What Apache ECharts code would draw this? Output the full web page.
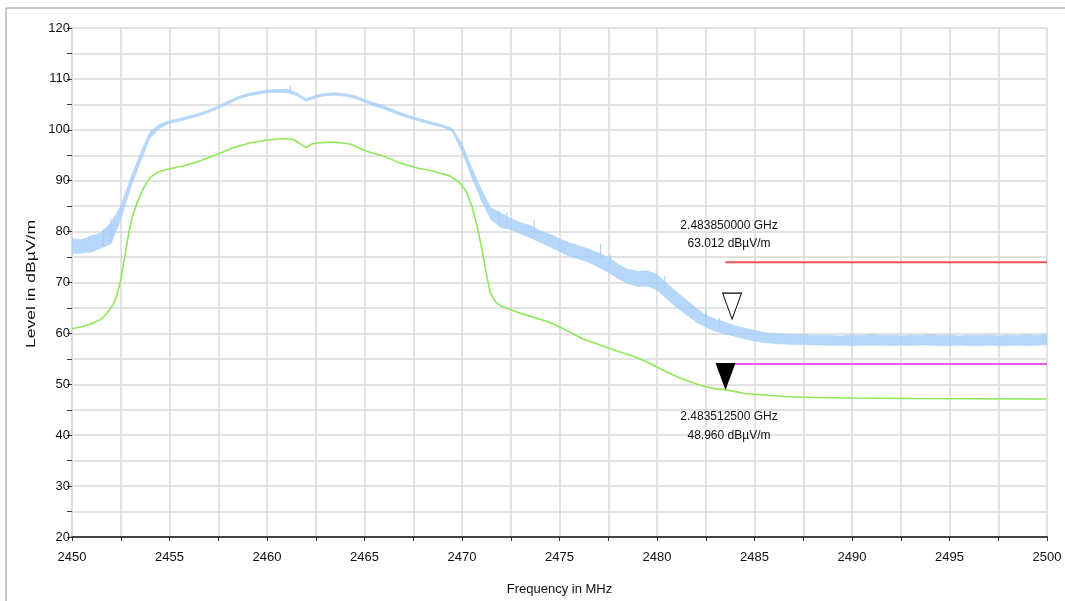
<!DOCTYPE html>
<html><head><meta charset="utf-8">
<script src="https://cdn.jsdelivr.net/npm/echarts@6/dist/echarts.min.js"></script>
<style>html,body{margin:0;padding:0;background:#fff}#c{width:1065px;height:601px}</style>
</head><body><div id="c"></div>
<script>
// ---------- data ----------
const xTickLabels = ['2450','2455','2460','2465','2470','2475','2480','2485','2490','2495','2500'];
const yTickLabels = ['20','30','40','50','60','70','80','90','100','110','120'];

// Peak trace (blue): noisy band, lower / upper edge per frequency
const blueFreq = [2450,2450.5,2451,2451.5,2452,2452.5,2453,2453.5,2454,2454.5,2455,2455.5,2456,2456.5,2457,2457.5,2458,2458.5,2459,2459.5,
  2460,2460.5,2461,2461.5,2462,2462.5,2463,2463.5,2464,2464.5,2465,2465.5,2466,2466.5,2467,2467.5,2468,2468.5,2469,2469.5,
  2470,2470.5,2471,2471.5,2472,2472.5,2473,2473.5,2474,2474.5,2475,2475.5,2476,2476.5,2477,2477.5,2478,2478.5,2479,2479.5,
  2480,2480.5,2481,2481.5,2482,2482.5,2483,2483.5,2484,2484.5,2485,2485.5,2486,2486.5,2487,2487.5,2488,2488.5,2489,2489.5,
  2490,2490.5,2491,2491.5,2492,2492.5,2493,2493.5,2494,2494.5,2495,2495.5,2496,2496.5,2497,2497.5,2498,2498.5,2499,2499.5,2500];
const blueLow = [75.6,75.8,76.0,76.8,77.6,82.4,88.5,93.6,98.4,100.3,101.3,101.7,102.2,102.7,103.4,104.2,105.1,106.0,106.6,107.0,
  107.3,107.4,107.3,106.8,105.6,106.3,106.7,106.8,106.6,106.2,105.4,104.7,104.1,103.3,102.6,102.0,101.5,101.0,100.5,99.6,
  95.7,90.7,86.0,82.3,80.8,80.4,79.6,78.8,77.9,77.0,76.1,75.2,74.6,74.0,73.0,72.0,70.8,69.8,69.2,69.3,
  68.5,66.8,65.1,63.7,62.3,61.2,60.4,59.9,59.4,58.9,58.5,58.2,58.0,57.9,57.8,57.8,57.7,57.7,57.6,57.7,
  57.6,57.7,57.6,57.7,57.6,57.7,57.6,57.7,57.7,57.6,57.6,57.7,57.6,57.6,57.7,57.6,57.6,57.7,57.6,57.7,57.7];
const blueHigh = [78.6,78.4,79.2,79.8,81.8,85.0,90.5,95.3,99.6,101.1,101.8,102.2,102.7,103.2,103.9,104.7,105.6,106.5,107.1,107.5,
  107.8,107.9,108.0,107.3,106.1,106.8,107.2,107.3,107.1,106.7,106.0,105.3,104.7,103.9,103.2,102.5,102.0,101.5,101.0,100.3,
  97.3,92.5,88.2,84.6,83.6,82.6,81.8,81.2,80.2,79.5,78.6,77.8,77.2,76.6,75.8,75.0,73.6,72.6,72.2,72.3,
  71.6,69.8,68.2,66.6,65.0,63.6,62.8,62.2,61.5,61.0,60.6,60.2,60.0,59.9,59.7,59.8,59.6,59.7,59.6,59.5,
  59.7,59.6,59.8,59.6,59.7,59.5,59.7,59.6,59.8,59.6,59.7,59.5,59.7,59.6,59.7,59.5,59.7,59.6,59.8,59.6,59.8];
// isolated spikes of the peak trace: frequency, from, to
const spikeFreq = [2451.6,2452.0,2461.2,2471.9,2472.3,2473.7,2477.1,2477.6,2480.4,2482.5,2483.2];
const spikeFrom = [77.0,78.0,107.5,82.0,81.5,79.5,74.5,73.5,68.5,62.5,61.0];
const spikeTo   = [80.5,82.5,108.6,84.3,83.8,82.2,77.6,75.5,71.3,64.8,63.0];

// Average trace (green)
const greenFreq = [2450,2450.5,2451,2451.5,2451.8,2452.1,2452.3,2452.5,2452.7,2452.9,2453.1,2453.4,2453.7,2454.0,2454.4,2454.85,
  2455.7,2456.5,2457.4,2458.3,2459.1,2460.0,2460.8,2461.35,2461.7,2462.0,2462.3,2462.55,2463.4,2464.26,2465.1,2466.0,2466.8,
  2467.7,2468.5,2469.4,2469.9,2470.2,2470.5,2470.75,2471.0,2471.27,2471.45,2471.7,2471.95,2472.8,2473.65,2474.5,2475.36,2476.2,
  2477.08,2477.9,2478.8,2479.64,2480.5,2481.2,2482.2,2483.0,2483.5,2484.5,2485.5,2486.5,2488.0,2490.0,2493.0,2496.0,2500.0];
const greenLevel = [60.9,61.3,61.9,62.8,64.0,65.6,67.5,70.5,75.0,79.5,83.0,86.3,88.8,90.6,91.7,92.2,
  92.9,93.8,95.1,96.5,97.4,98.0,98.3,98.1,97.3,96.5,97.2,97.4,97.6,97.2,95.8,94.8,93.5,
  92.5,91.9,90.9,89.5,88.0,85.0,81.5,77.0,71.3,68.0,66.3,65.5,64.2,63.2,62.2,60.6,58.9,
  57.7,56.6,55.5,54.1,52.4,51.2,49.8,49.1,48.95,48.2,47.9,47.6,47.4,47.3,47.2,47.15,47.1];

// Limit lines
const limitFreq = [2483.5, 2500];
const peakLimit = [74, 74];
const avgLimit = [54, 54];

// Markers
const markerPeak = [2483.85, 63.012];
const markerAvg = [2483.5125, 48.960];
const markerPeakText = ['2.483850000 GHz', '63.012 dBµV/m'];
const markerAvgText = ['2.483512500 GHz', '48.960 dBµV/m'];

// ---------- chart ----------
const FONT = '"Liberation Sans", Arial, sans-serif';
const GRID = '#d9d9d9';
const BLUE = '#a4cdf8';
const chart = echarts.init(document.getElementById('c'), null, {renderer: 'canvas'});

const option = {
  animation: false,
  backgroundColor: '#fff',
  textStyle: {fontFamily: FONT},
  grid: {left: 72, right: 18, top: 28, bottom: 62, containLabel: false},
  xAxis: {
    type: 'value', min: 2450, max: 2500, interval: 2.5,
    name: 'Frequency in MHz', nameLocation: 'middle', nameGap: 46,
    nameTextStyle: {fontFamily: FONT, fontSize: 13, color: '#111'},
    axisLine: {show: true, lineStyle: {color: '#444', width: 2}},
    axisTick: {show: true, length: 4, lineStyle: {color: '#333'}},
    axisLabel: {margin: 14, fontFamily: FONT, fontSize: 13, color: '#111',
      formatter: v => { const s = String(Math.round(v)); return (Math.abs(v % 5) < 1e-6 && xTickLabels.includes(s)) ? s : ''; }},
    splitLine: {show: true, lineStyle: {color: GRID, width: 1.5}}
  },
  yAxis: {
    type: 'value', min: 20, max: 120, interval: 5,
    axisLine: {show: true, onZero: false, lineStyle: {color: GRID, width: 1.5}},
    axisTick: {show: true, length: 5, lineStyle: {color: '#333'}},
    axisLabel: {margin: 2, fontFamily: FONT, fontSize: 13, color: '#111',
      formatter: v => { const s = String(Math.round(v)); return (v % 10 === 0 && yTickLabels.includes(s)) ? s : ''; }},
    splitLine: {show: true, lineStyle: {color: GRID, width: 1.5}}
  },
  series: [
    {
      type: 'custom', name: 'peak', silent: true, z: 3, clip: true,
      data: [[blueFreq[0], blueLow[0]]],
      renderItem: (params, api) => {
        const pts = [];
        for (let i = 0; i < blueFreq.length; i++) pts.push(api.coord([blueFreq[i], blueHigh[i]]));
        for (let i = blueFreq.length - 1; i >= 0; i--) pts.push(api.coord([blueFreq[i], blueLow[i]]));
        const spikes = spikeFreq.map((f, i) => {
          const a = api.coord([f, spikeFrom[i]]), b = api.coord([f, spikeTo[i]]);
          return {type: 'line', shape: {x1: a[0], y1: a[1], x2: b[0], y2: b[1]}, style: {stroke: BLUE, lineWidth: 1}};
        });
        return {type: 'group', children: [
          {type: 'polygon', shape: {points: pts}, style: {fill: BLUE, opacity: 0.8, stroke: BLUE, lineWidth: 0.6}}
        ].concat(spikes)};
      }
    },
    {
      type: 'line', name: 'average', silent: true, z: 4, symbol: 'none',
      data: greenFreq.map((f, i) => [f, greenLevel[i]]),
      lineStyle: {color: '#8de85a', width: 1.6}
    },
    {
      type: 'line', name: 'peak limit', silent: true, z: 5, symbol: 'none',
      data: limitFreq.map((f, i) => [f, peakLimit[i]]),
      lineStyle: {color: '#f05555', width: 2}
    },
    {
      type: 'line', name: 'avg limit', silent: true, z: 5, symbol: 'none',
      data: limitFreq.map((f, i) => [f, avgLimit[i]]),
      lineStyle: {color: '#f055f0', width: 2}
    },
    {
      type: 'scatter', name: 'marker peak', silent: true, z: 6,
      data: [markerPeak], symbol: 'triangle', symbolRotate: 180,
      symbolSize: [19, 26], symbolOffset: [0, -12],
      itemStyle: {color: '#fff', borderColor: '#000', borderWidth: 1, opacity: 1}
    },
    {
      type: 'scatter', name: 'marker avg', silent: true, z: 6,
      data: [markerAvg], symbol: 'triangle', symbolRotate: 180,
      symbolSize: [20, 27], symbolOffset: [0, -13],
      itemStyle: {color: '#000', opacity: 1}
    }
  ]
};
chart.setOption(option);

// annotation texts placed from the marker data positions
const pPeak = chart.convertToPixel({gridIndex: 0}, markerPeak);
const pAvg = chart.convertToPixel({gridIndex: 0}, markerAvg);
const txt = (x, y, t) => ({type: 'text', x: x, y: y, z: 10, silent: true,
  style: {text: t, fontFamily: FONT, fontSize: 12, fill: '#111', align: 'center', verticalAlign: 'middle'}});
chart.setOption({
  graphic: [
    {type: 'line', shape: {x1: 6, y1: 8, x2: 1065, y2: 8}, style: {stroke: '#b4b4b4', lineWidth: 1.5}, silent: true},
    {type: 'line', shape: {x1: 6, y1: 8, x2: 6, y2: 601}, style: {stroke: '#b4b4b4', lineWidth: 1.5}, silent: true},
    {type: 'text', x: 31, y: 284, rotation: Math.PI / 2, scaleX: 1.35, silent: true,
      style: {text: 'Level in dBµV/m', fontFamily: FONT, fontSize: 13, fill: '#111', align: 'center', verticalAlign: 'middle'}},
    txt(pPeak[0] - 3, pPeak[1] - 92, markerPeakText[0]),
    txt(pPeak[0] - 3, pPeak[1] - 74, markerPeakText[1]),
    txt(pAvg[0] + 3.5, pAvg[1] + 27, markerAvgText[0]),
    txt(pAvg[0] + 3.5, pAvg[1] + 46, markerAvgText[1])
  ]
});
</script>
</body></html>
